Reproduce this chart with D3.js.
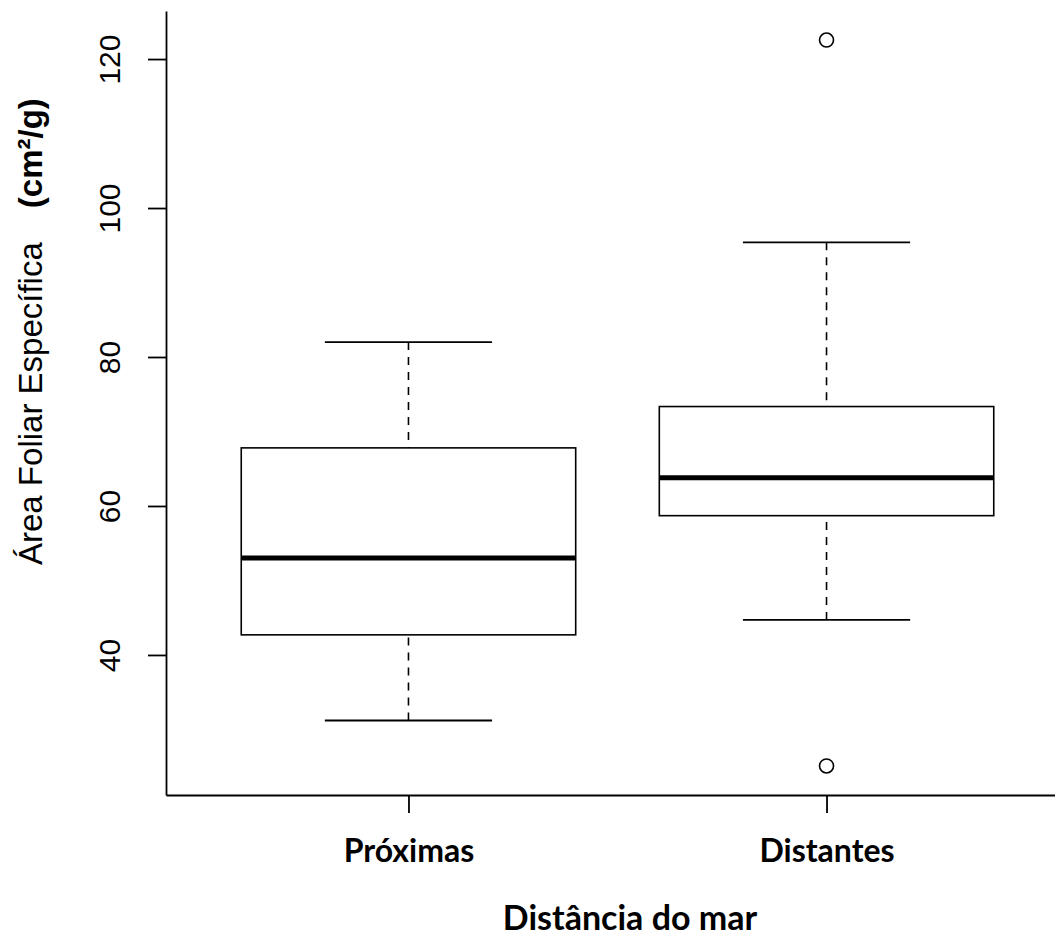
<!DOCTYPE html>
<html>
<head>
<meta charset="utf-8">
<style>
    body { margin: 0; background: #fff; }
    .axis path, .axis line { stroke: #000; stroke-width: 1.8; }
    .axis text { fill: #000; }
    .yaxis text { font-family: "Liberation Sans", Arial, sans-serif; font-size: 30px; }
    .xaxis text { font-family: Lato, "Open Sans", sans-serif; font-weight: bold; font-size: 32px; }
    .box { fill: none; stroke: #000; stroke-width: 1.6; }
    .median { stroke: #000; stroke-width: 5; }
    .whisker { stroke: #000; stroke-width: 1.6; stroke-dasharray: 8,7; }
    .cap { stroke: #000; stroke-width: 1.8; }
    .outlier { fill: none; stroke: #000; stroke-width: 1.6; }
    .ylabel { font-family: "Liberation Sans", Arial, sans-serif; font-size: 33px; fill: #000; }
    .xlabel { font-family: Lato, "Open Sans", sans-serif; font-weight: bold; font-size: 34px; fill: #000; }
</style>
</head>
<body>

<svg width="1055" height="937"></svg>
<script src="https://cdnjs.cloudflare.com/ajax/libs/d3/7.8.5/d3.min.js"></script>
<script>

// values
var groups = ["Próximas", "Distantes"];
var lowerWhisker = [31.2, 44.7];
var q1 = [42.7, 58.7];
var medians = [53.0, 63.8];
var q3 = [67.8, 73.35];
var upperWhisker = [82.0, 95.4];
var outliers = [[], [122.55, 25.1]];
var yTicks = [40, 60, 80, 100, 120];

var svg = d3.select("svg");

// R style: positions 1..n, with 4% padding on each side
var x = d3.scaleLinear()
    .domain([0.42, 2.58])
    .range([166, 1069]);

var y = d3.scaleLinear()
    .domain([21.2, 126.45])
    .range([795, 11]);

var boxHalf = 0.4, capHalf = 0.2;

var rows = groups.map(function(g, i) {
    return {
        name: g, pos: i + 1,
        lo: lowerWhisker[i], q1: q1[i], med: medians[i], q3: q3[i], hi: upperWhisker[i],
        out: outliers[i]
    };
});

var b = svg.selectAll(".group")
    .data(rows)
    .enter().append("g")
    .attr("class", "group");

// dashed whiskers
b.append("line")
    .attr("class", "whisker")
    .attr("x1", function(d) { return x(d.pos); })
    .attr("x2", function(d) { return x(d.pos); })
    .attr("y1", function(d) { return y(d.lo); })
    .attr("y2", function(d) { return y(d.q1); });

b.append("line")
    .attr("class", "whisker")
    .attr("x1", function(d) { return x(d.pos); })
    .attr("x2", function(d) { return x(d.pos); })
    .attr("y1", function(d) { return y(d.hi); })
    .attr("y2", function(d) { return y(d.q3); });

// staples
b.append("line")
    .attr("class", "cap")
    .attr("x1", function(d) { return x(d.pos - capHalf); })
    .attr("x2", function(d) { return x(d.pos + capHalf); })
    .attr("y1", function(d) { return y(d.lo); })
    .attr("y2", function(d) { return y(d.lo); });

b.append("line")
    .attr("class", "cap")
    .attr("x1", function(d) { return x(d.pos - capHalf); })
    .attr("x2", function(d) { return x(d.pos + capHalf); })
    .attr("y1", function(d) { return y(d.hi); })
    .attr("y2", function(d) { return y(d.hi); });

b.append("rect")
    .attr("class", "box")
    .attr("x", function(d) { return x(d.pos - boxHalf); })
    .attr("width", function(d) { return x(d.pos + boxHalf) - x(d.pos - boxHalf); })
    .attr("y", function(d) { return y(d.q3); })
    .attr("height", function(d) { return y(d.q1) - y(d.q3); });

b.append("line")
    .attr("class", "median")
    .attr("x1", function(d) { return x(d.pos - boxHalf); })
    .attr("x2", function(d) { return x(d.pos + boxHalf); })
    .attr("y1", function(d) { return y(d.med); })
    .attr("y2", function(d) { return y(d.med); });

b.each(function(d) {
    d3.select(this).selectAll(".outlier")
        .data(d.out)
        .enter().append("circle")
        .attr("class", "outlier")
        .attr("cx", x(d.pos))
        .attr("cy", function(v) { return y(v); })
        .attr("r", 7);
});

// left axis, labels rotated like R's las=0
var ya = svg.append("g")
    .attr("class", "axis yaxis")
    .attr("transform", "translate(166,0)")
    .call(d3.axisLeft(y).tickValues(yTicks).tickSize(18).tickSizeOuter(0));

ya.selectAll(".tick text")
    .attr("x", null).attr("dy", null)
    .attr("text-anchor", "middle")
    .attr("transform", "translate(-46,0) rotate(-90)");

// bottom axis
var xa = svg.append("g")
    .attr("class", "axis xaxis")
    .attr("transform", "translate(0,795)")
    .call(d3.axisBottom(x).tickValues([1, 2]).tickSize(18).tickSizeOuter(0)
        .tickFormat(function(d) { return groups[d - 1]; }));

xa.selectAll(".tick text")
    .attr("dy", null)
    .attr("y", 67);

var yl = svg.append("text")
    .attr("class", "ylabel")
    .attr("transform", "translate(42,565) rotate(-90)")
    .attr("text-anchor", "start");
yl.append("tspan").text("Área Foliar Específica");
yl.append("tspan").attr("dx", 34).attr("font-weight", "bold").text("(cm²/g)");

svg.append("text")
    .attr("class", "xlabel")
    .attr("x", 630)
    .attr("y", 930)
    .attr("text-anchor", "middle")
    .text("Distância do mar");

</script>
</body>
</html>
